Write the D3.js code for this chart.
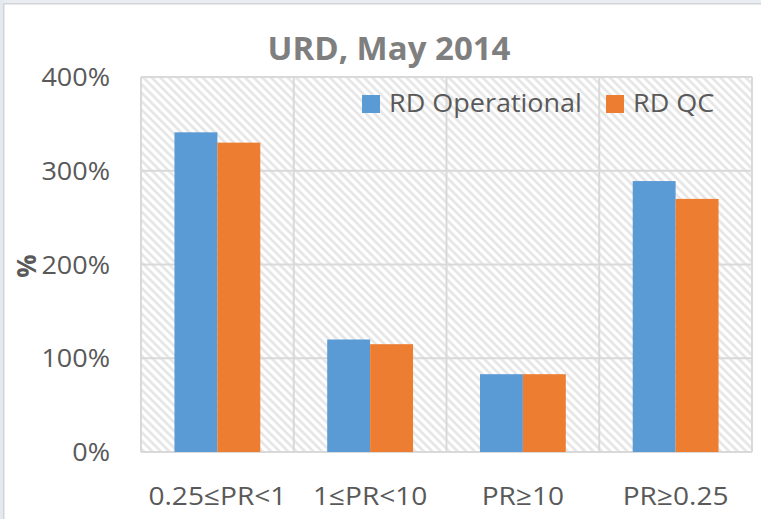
<!DOCTYPE html>
<html>
<head>
<meta charset="utf-8">
<script src="https://cdn.jsdelivr.net/npm/d3@7"></script>
<style>
  html, body { margin: 0; padding: 0; background: #ffffff; }
  svg { display: block; }
  text { font-family: "Open Sans", "DejaVu Sans", sans-serif; }
</style>
</head>
<body>
<svg id="chart" width="761" height="519"></svg>
<script>
// ---- data ----
const categories = ["0.25≤PR<1", "1≤PR<10", "PR≥10", "PR≥0.25"];
const seriesNames = ["RD Operational", "RD QC"];
const rdOperational = [341, 120, 83, 289];
const rdQC = [330, 115, 83, 270];
const yTicks = [0, 100, 200, 300, 400];
const titleText = "URD, May 2014";
const yAxisTitle = "%";

// ---- styling ----
const colors = ["#5B9BD5", "#ED7D31"];
const textColor = "#595959";
const gridColor = "#d9d9d9";
const W = 761, H = 519;
const plot = { left: 141, right: 752, top: 77, bottom: 452 };
const sx = 1.08; // horizontal text stretch

const svg = d3.select("#chart");

// outer frame (window edge)
svg.append("rect").attr("x", 0).attr("y", 0).attr("width", W).attr("height", 3).attr("fill", "#e9ecf0");
svg.append("rect").attr("x", 0).attr("y", 0).attr("width", 3).attr("height", H).attr("fill", "#e4e9f0");
svg.append("line").attr("x1", 3).attr("x2", W).attr("y1", 3.75).attr("y2", 3.75)
  .attr("stroke", "#d2d4d7").attr("stroke-width", 1.5);
svg.append("line").attr("x1", 3.75).attr("x2", 3.75).attr("y1", 3).attr("y2", H)
  .attr("stroke", "#d2d4d7").attr("stroke-width", 1.5);

// hatch pattern
const defs = svg.append("defs");
const pat = defs.append("pattern")
  .attr("id", "hatch")
  .attr("patternUnits", "userSpaceOnUse")
  .attr("width", 6).attr("height", 6)
  .attr("patternTransform", "rotate(45)");
pat.append("rect").attr("width", 6).attr("height", 6).attr("fill", "#ffffff");
pat.append("line").attr("x1", 0).attr("x2", 6).attr("y1", 1.5).attr("y2", 1.5)
  .attr("stroke", "#e3e3e3").attr("stroke-width", 2.4);

// scales
const x0 = d3.scaleBand().domain(categories).range([plot.left, plot.right]).paddingInner(0).paddingOuter(0);
const x1 = d3.scaleBand().domain(seriesNames).range([0, x0.bandwidth()]).paddingInner(0).paddingOuter(0.78);
const y = d3.scaleLinear().domain([0, 400]).range([plot.bottom, plot.top]);

// plot background
svg.append("rect")
  .attr("x", plot.left).attr("y", plot.top)
  .attr("width", plot.right - plot.left).attr("height", plot.bottom - plot.top)
  .attr("fill", "url(#hatch)");

// horizontal gridlines
svg.append("g").selectAll("line").data(yTicks).join("line")
  .attr("x1", plot.left).attr("x2", plot.right)
  .attr("y1", d => y(d)).attr("y2", d => y(d))
  .attr("stroke", gridColor).attr("stroke-width", 2);

// vertical gridlines at category boundaries
const boundaries = categories.map(c => x0(c)).concat([x0(categories[categories.length - 1]) + x0.bandwidth()]);
svg.append("g").selectAll("line").data(boundaries).join("line")
  .attr("x1", d => d).attr("x2", d => d)
  .attr("y1", plot.top).attr("y2", plot.bottom)
  .attr("stroke", gridColor).attr("stroke-width", 2);

// bars
const seriesData = [rdOperational, rdQC];
const groups = svg.append("g").selectAll("g").data(categories).join("g")
  .attr("transform", c => `translate(${x0(c)},0)`);
groups.selectAll("rect")
  .data((c, i) => seriesNames.map((s, j) => ({ s, v: seriesData[j][i], j })))
  .join("rect")
  .attr("x", d => x1(d.s))
  .attr("width", x1.bandwidth())
  .attr("y", d => y(d.v))
  .attr("height", d => y(0) - y(d.v))
  .attr("fill", d => colors[d.j]);

// y tick labels
svg.append("g").selectAll("text").data(yTicks).join("text")
  .attr("transform", d => `translate(110,${y(d)}) scale(${sx},1)`)
  .attr("dy", "0.36em")
  .attr("text-anchor", "end")
  .attr("font-size", 25)
  .attr("fill", textColor)
  .text(d => d + "%");

// x labels
svg.append("g").selectAll("text").data(categories).join("text")
  .attr("transform", c => `translate(${x0(c) + x0.bandwidth() / 2},505) scale(${sx},1)`)
  .attr("text-anchor", "middle")
  .attr("font-size", 26)
  .attr("fill", textColor)
  .text(c => c);

// y axis title
svg.append("text")
  .attr("transform", "translate(36,266) rotate(-90)")
  .attr("text-anchor", "middle")
  .attr("font-size", 26)
  .attr("font-weight", "bold")
  .attr("fill", textColor)
  .text(yAxisTitle);

// title
svg.append("text")
  .attr("x", 389).attr("y", 60)
  .attr("text-anchor", "middle")
  .attr("font-size", 33)
  .attr("font-weight", "bold")
  .attr("fill", "#7f7f7f")
  .text(titleText);

// legend
const legendX = [362, 606];
const legend = svg.append("g").selectAll("g").data(seriesNames).join("g")
  .attr("transform", (d, i) => `translate(${legendX[i]},95)`);
legend.append("rect").attr("width", 18).attr("height", 18).attr("fill", (d, i) => colors[i]);
legend.append("text")
  .attr("transform", `translate(27,17) scale(${sx},1)`)
  .attr("font-size", 25)
  .attr("fill", textColor)
  .text(d => d);
</script>
</body>
</html>
